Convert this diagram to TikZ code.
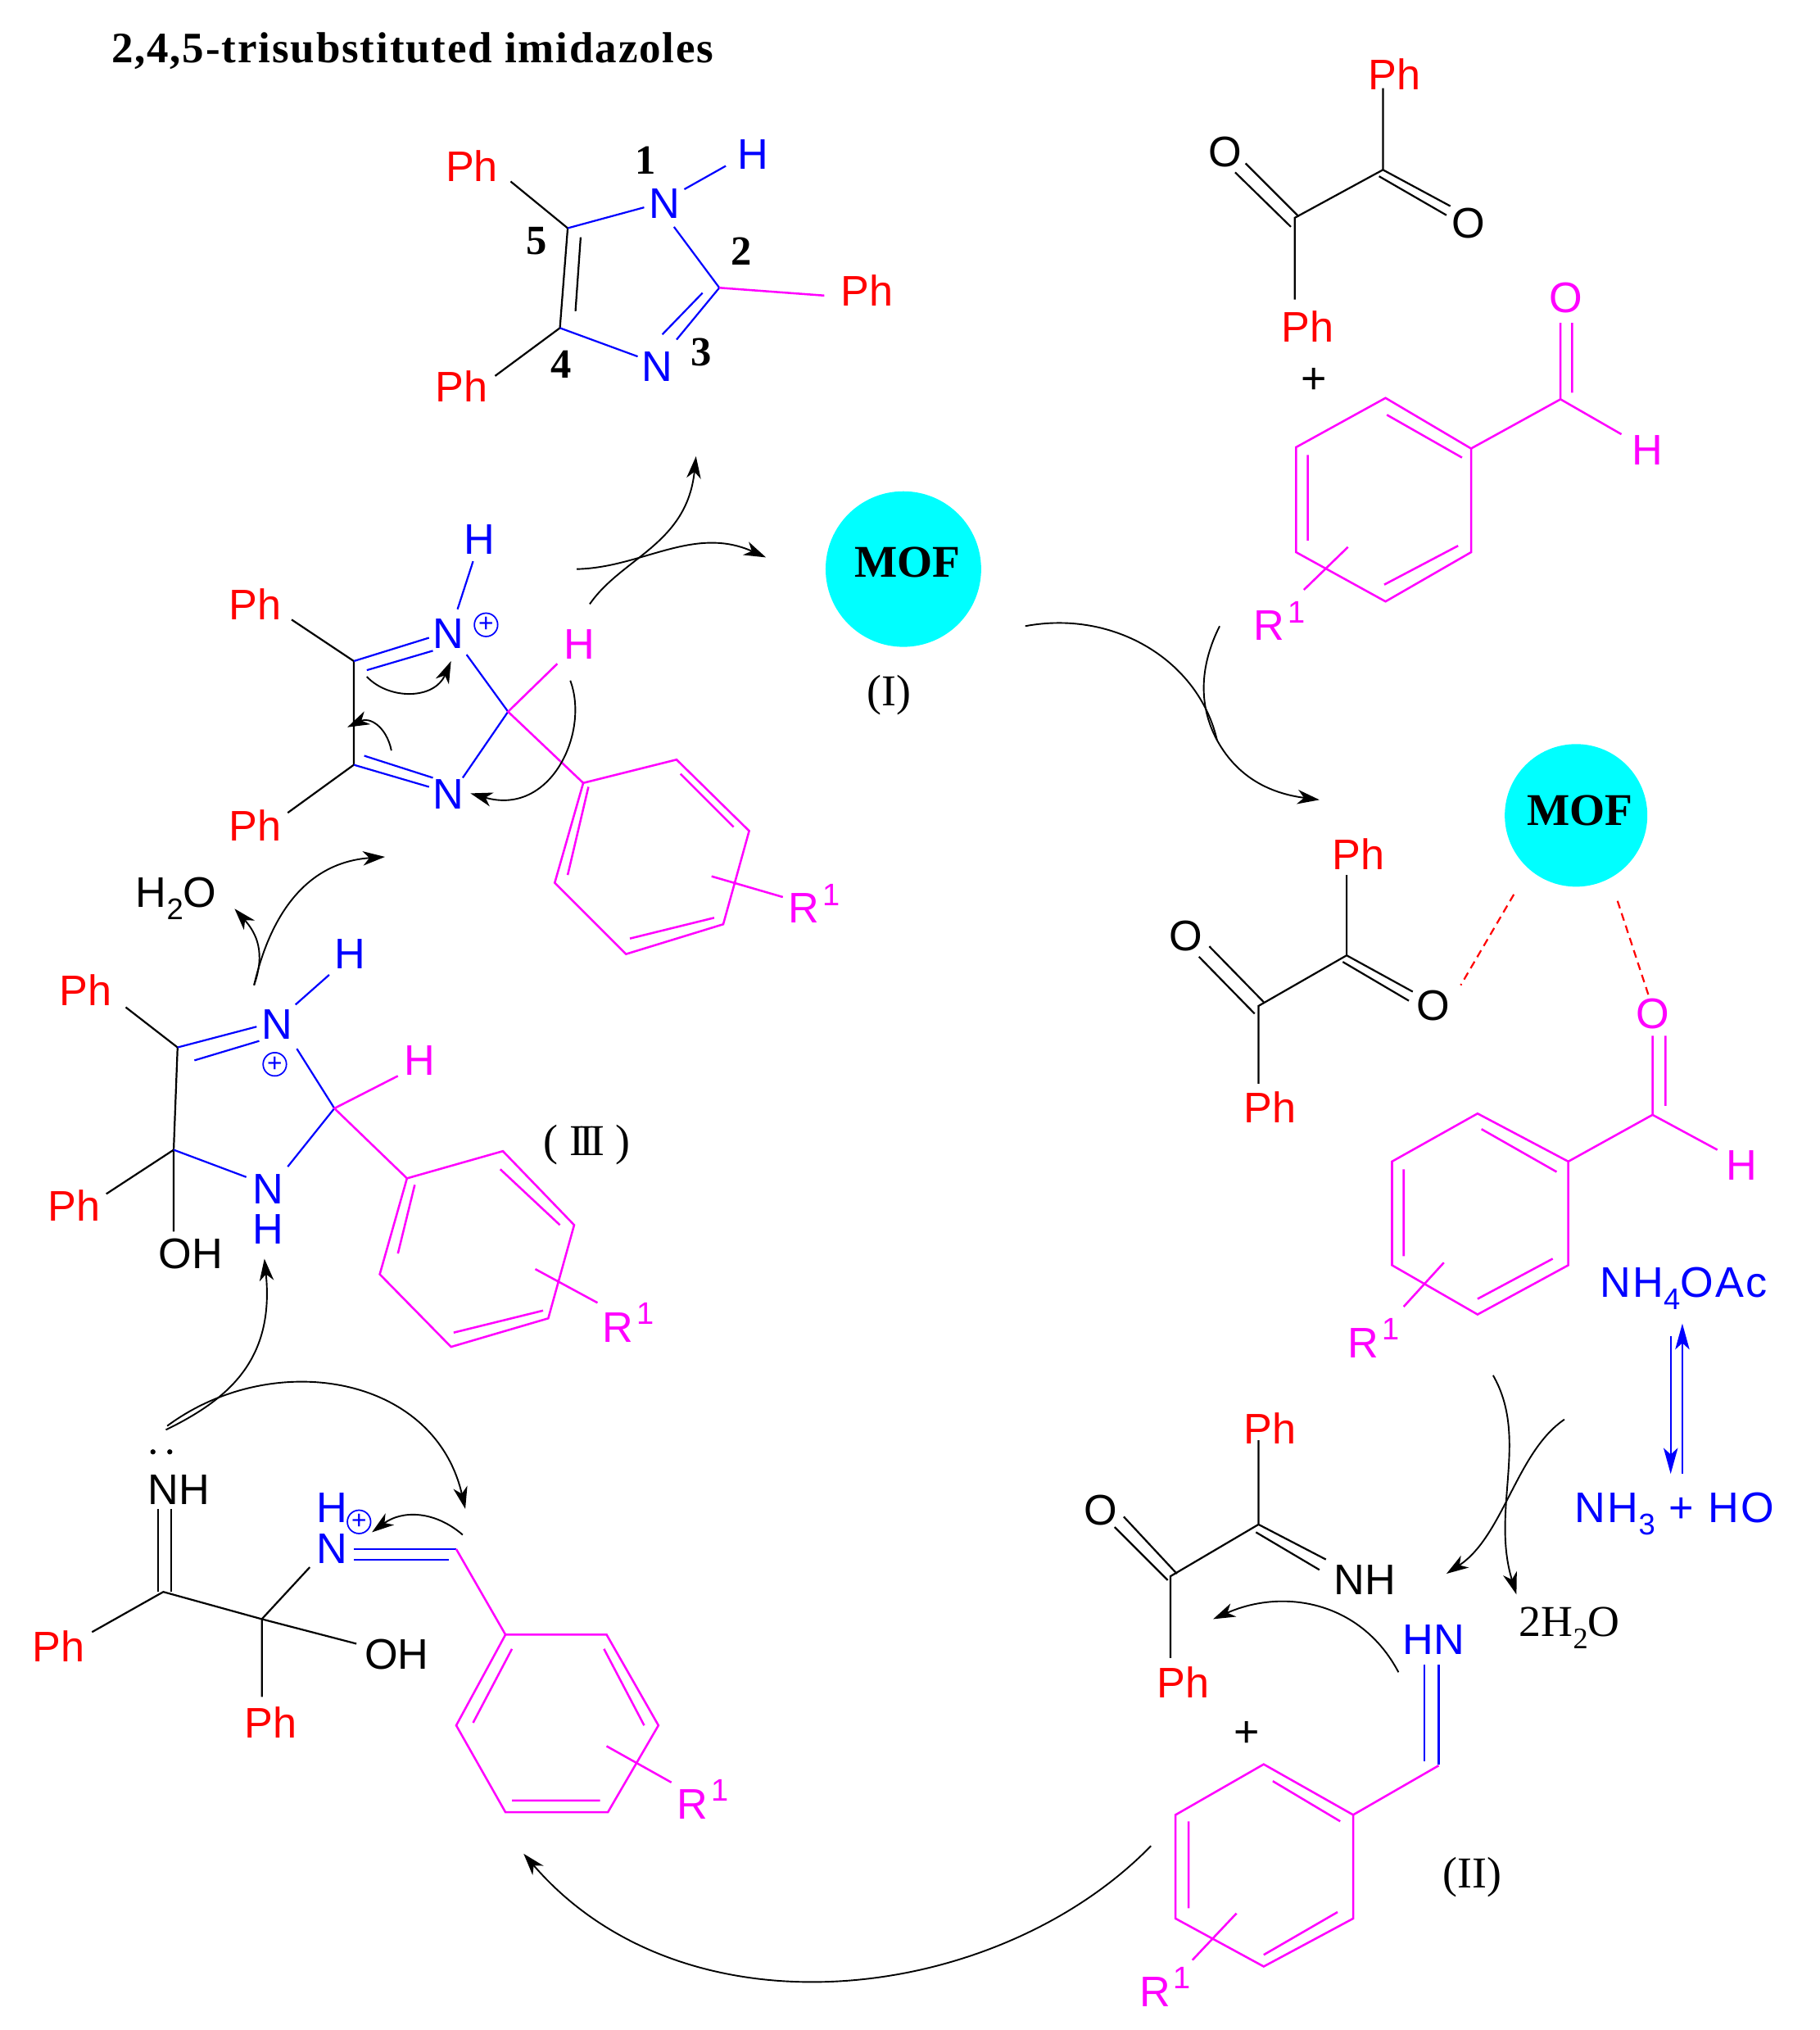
\documentclass[tikz,border=0pt]{standalone}
\usepackage{fontspec}
\setmainfont{Liberation Sans}
\newfontfamily\serifbody{Liberation Serif}
\newfontfamily\titlefont[LetterSpace=3.5]{Liberation Serif}
\newfontfamily\spaced[LetterSpace=5]{Liberation Sans}
\usetikzlibrary{arrows.meta}
\definecolor{pk}{RGB}{255,0,255}
\definecolor{rd}{RGB}{255,0,0}
\definecolor{bl}{RGB}{0,0,255}
\definecolor{mofc}{RGB}{0,255,255}
\newcommand\sbs[1]{\raisebox{-0.28em}{\fontsize{23}{23}\selectfont #1}}
\newcommand\sps[1]{\raisebox{0.42em}{\fontsize{24}{24}\selectfont #1}}
\newcommand\Rone{R\kern0.08em\sps{1}}
\tikzset{
 x=1pt,y=-1pt,
 every node/.style={inner sep=0pt,outer sep=0pt,anchor=center},
 atom/.style={font=\fontsize{33}{33}\selectfont},
 rl/.style={atom,text=rd},
 bll/.style={atom,text=bl},
 pkl/.style={atom,text=pk},
 bkl/.style={atom,text=black},
 numl/.style={font=\fontsize{32}{32}\selectfont\serifbody\bfseries,text=black},
 serl/.style={font=\fontsize{34}{34}\selectfont\serifbody,text=black},
 mofl/.style={font=\fontsize{35}{35}\selectfont\serifbody\bfseries,text=black},
 bbk/.style={draw=black,line width=1.4pt},
 bbl/.style={draw=bl,line width=1.4pt},
 bpk/.style={draw=pk,line width=1.6pt,line join=miter},
 arr/.style={draw=black,line width=1.2pt,-{Stealth[length=17pt,width=11pt,inset=5pt]}},
 plain/.style={draw=black,line width=1.2pt},
 hb/.style={draw=rd,line width=1.4pt,dash pattern=on 6pt off 4pt},
 cplus/.style={circle,draw=bl,line width=1.1pt,minimum size=18pt,text=bl,font=\fontsize{20}{20}\selectfont},
 eq/.style={draw=bl,line width=1.5pt,-{Stealth[length=20pt,width=11pt,inset=5pt]}},
 plusl/.style={font=\fontsize{34}{34}\selectfont,text=black},
}
\begin{document}
\begin{tikzpicture}
\useasboundingbox (0,0) rectangle (1404,1566);
% title
\node[font=\fontsize{33.5}{33.5}\selectfont\titlefont\bfseries,anchor=west] (title) at (86,39) {2,4,5-trisubstituted imidazoles};

% ---- top imidazole
\node[rl] (p1) at (364,128) {Ph};
\node[rl] (p2) at (669,224) {Ph};
\node[rl] (p3) at (356,298) {Ph};
\node[bll] (n1) at (513,157) {N};
\node[bll] (h1) at (581,119) {H};
\node[bll] (n3) at (507,283) {N};
\node[numl] (d1) at (498,124) {1};
\node[numl] (d2) at (572,194) {2};
\node[numl] (d3) at (541,272) {3};
\node[numl] (d4) at (433,281) {4};
\node[numl] (d5) at (414,186) {5};
\draw[bbk] (394,140)--(438,176);
\draw[bbk] (432,253)--(382,290);
\draw[bbk] (438,176)--(432,253) (448,183)--(444,240);
\draw[bbl] (438,176)--(497,160) (528,146)--(560,128) (520,175)--(555,222);
\draw[bbl] (555,222)--(522,262) (542,226)--(511,258) (432,253)--(492,275);
\draw[bpk] (555,222)--(636,228);

% ---- arrows to MOF
\draw[arr] (455,466) .. controls (480,430) and (530,420) .. (537,352);
\draw[arr] (445,439) .. controls (495,438) and (535,405) .. (591,430);

% ---- MOF I
\node[circle,fill=mofc,minimum size=120pt] (mof1) at (697,439) {};
\node[mofl] (mof1t) at (700,434) {MOF};
\node[serl] (lab1) at (686,536) {(I)};

% ---- cation top
\node[bll] (h2) at (370,416) {H};
\node[bll] (n4) at (346,489) {N};
\node[cplus] (pl1) at (375,482) {+};
\node[bll] (n5) at (346,613) {N};
\node[rl] (p4) at (197,466) {Ph};
\node[rl] (p5) at (197,637) {Ph};
\node[pkl] (h3) at (447,497) {H};
\node[pkl] (r1) at (628,697) {\Rone};
\draw[bbk] (225,478)--(273,510)--(273,590)--(222,627);
\draw[bbl] (273,510)--(331,492) (283,517)--(334,502) (365,433)--(353,470);
\draw[bbl] (273,590)--(331,607) (281,583)--(334,600);
\draw[bbl] (360,505)--(392,549)--(357,600);
\draw[bpk] (430,512)--(392,549)--(450,604);
\draw[bpk] (450,604)--(522,586)--(578,641)--(558,713)--(483,736)--(428,681)--cycle;
\draw[bpk] (525,597)--(566,638) (551,708)--(486,724) (454,607)--(438,675) (549,676)--(604,692);
\draw[arr] (283,522) .. controls (300,540) and (335,540) .. (348,510);
\draw[arr] (302,579) .. controls (298,560) and (285,553) .. (268,561);
\draw[arr] (440,525) .. controls (455,565) and (425,630) .. (363,612);

% ---- H2O
\node[bkl] (w1) at (136,693) {H\sbs{2}O};
\draw[arr] (196,760) .. controls (205,735) and (198,720) .. (181,701);
\draw[arr] (196,760) .. controls (210,700) and (240,665) .. (297,661);

% ---- III
\node[bll] (h4) at (270,736) {H};
\node[bll] (n6) at (214,790) {N};
\node[cplus] (pl2) at (212,821) {+};
\node[rl] (p6) at (66,764) {Ph};
\node[rl] (p7) at (57,930) {Ph};
\node[bkl] (oh1) at (147,967) {OH};
\node[bll] (n7) at (207,917) {N};
\node[bll] (h5) at (207,948) {H};
\node[pkl] (h6) at (324,818) {H};
\node[pkl] (r2) at (485,1020) {\Rone};
\node[serl] (lab3) at (453,883) {( I\kern-0.1em I\kern-0.1em I )};
\draw[bbk] (97,777)--(137,808)--(134,887)--(134,950) (82,921)--(134,887);
\draw[bbl] (137,808)--(198,792) (150,818)--(200,803) (228,775)--(254,752);
\draw[bbl] (229,809)--(258,855)--(222,900) (134,887)--(190,908);
\draw[bpk] (307,830)--(258,855)--(314,909);
\draw[bpk] (314,909)--(388,888)--(443,945)--(423,1017)--(348,1039)--(293,983)--cycle;
\draw[bpk] (386,902)--(432,945) (419,1011)--(350,1028) (320,914)--(307,967) (413,979)--(461,1005);
\draw[arr] (128,1103) .. controls (175,1080) and (212,1050) .. (204,971);
\draw[arr] (129,1100) .. controls (210,1040) and (335,1060) .. (359,1164);

% ---- lower left
\fill (118,1120) circle (2pt) (131,1120) circle (2pt);
\node[bkl] (nh1) at (138,1149) {NH};
\node[rl] (p8) at (45,1270) {Ph};
\node[rl] (p9) at (209,1329) {Ph};
\node[bkl] (oh2) at (306,1276) {OH};
\node[bll] (n8) at (256,1195) {N};
\node[bll] (h7) at (256,1163) {H};
\node[cplus] (pl3) at (277,1174) {+};
\node[pkl] (r3) at (542,1388) {\Rone};
\draw[bbk] (122,1164)--(122,1228) (132,1164)--(132,1228);
\draw[bbk] (71,1259)--(126,1228)--(202,1249)--(275,1268) (202,1249)--(202,1309) (202,1249)--(239,1209);
\draw[bbl] (273,1195)--(352,1195) (273,1203)--(346,1203);
\draw[bpk] (352,1195)--(390,1261);
\draw[bpk] (390,1261)--(468,1261)--(508,1331)--(469,1398)--(390,1398)--(352,1331)--cycle;
\draw[bpk] (466,1272)--(497,1331) (463,1389)--(395,1389) (395,1272)--(365,1329) (468,1347)--(518,1375);
\draw[arr] (357,1184) .. controls (335,1165) and (310,1165) .. (287,1182);
\draw[arr] (888,1424) .. controls (770,1545) and (530,1576) .. (404,1430);

% ---- top right reagents
\node[rl] (p10) at (1076,57) {Ph};
\node[rl] (p11) at (1009,252) {Ph};
\node[bkl] (o1) at (945,117) {O};
\node[bkl] (o2) at (1133,172) {O};
\node[plusl] (pl4) at (1014,294) {+};
\node[pkl] (o3) at (1208,230) {O};
\node[pkl] (h8) at (1271,347) {H};
\node[pkl] (r4) at (987,479) {\Rone};
\draw[bbk] (1067,68)--(1067,131)--(1119,159) (1064,136)--(1116,166) (1067,131)--(999,168)--(999,231);
\draw[bbk] (996,175)--(953,133) (1002,167)--(961,126);
\draw[bpk] (1069,307)--(1135,346)--(1135,426)--(1069,464)--(1000,426)--(1000,345)--cycle;
\draw[bpk] (1070,320)--(1128,353) (1125,421)--(1068,451) (1009,351)--(1009,417) (1040,422)--(1006,455);
\draw[bpk] (1135,346)--(1204,308)--(1251,335) (1204,308)--(1204,249) (1213,303)--(1213,249);
\draw[plain] (941,483) .. controls (925,515) and (925,545) .. (939,571);
\draw[plain] (791,483) .. controls (860,470) and (925,510) .. (939,571);
\draw[arr] (939,571) .. controls (955,600) and (980,612) .. (1018,617);

% ---- MOF complex
\node[circle,fill=mofc,minimum size=110pt] (mof2) at (1216,629) {};
\node[mofl] (mof2t) at (1219,625) {MOF};
\node[rl] (p12) at (1048,659) {Ph};
\node[rl] (p13) at (980,854) {Ph};
\node[bkl] (o4) at (915,722) {O};
\node[bkl] (o5) at (1106,776) {O};
\node[pkl] (o6) at (1275,782) {O};
\node[pkl] (h9) at (1344,899) {H};
\node[pkl] (r5) at (1060,1032) {\Rone};
\draw[hb] (1168,690)--(1127,760) (1248,695)--(1272,768);
\draw[bbk] (1039,675)--(1039,737)--(1090,765) (1036,742)--(1087,772) (1039,737)--(971,776)--(971,836);
\draw[bbk] (968,782)--(925,738) (975,773)--(933,730);
\draw[bpk] (1140,859)--(1210,896)--(1210,976)--(1140,1014)--(1074,976)--(1074,896)--cycle;
\draw[bpk] (1143,871)--(1201,904) (1198,971)--(1140,1002) (1083,902)--(1083,969) (1114,974)--(1083,1008);
\draw[bpk] (1210,896)--(1275,860)--(1325,887) (1275,860)--(1275,799) (1285,853)--(1285,799);

% ---- NH4OAc
\node[bll,font=\fontsize{33}{33}\selectfont\spaced] (am) at (1299,994) {NH\sbs{4}OAc};
\node[bll,font=\fontsize{33}{33}\selectfont\spaced] (am2) at (1292,1168) {NH\sbs{3} + HO};
\draw[eq] (1289,1031)--(1289,1137);
\draw[eq] (1298,1137)--(1298,1021);
\node[serl] (w2) at (1211,1256) {2H\sbs{2}O};
\draw[arr] (1152,1061) .. controls (1180,1110) and (1150,1165) .. (1170,1230);
\draw[arr] (1207,1095) .. controls (1170,1120) and (1160,1185) .. (1116,1214);

% ---- bottom right
\node[rl] (p14) at (980,1102) {Ph};
\node[rl] (p15) at (913,1298) {Ph};
\node[bkl] (o7) at (849,1165) {O};
\node[bkl] (nh2) at (1053,1219) {NH};
\node[plusl] (pl5) at (962,1338) {+};
\node[bll] (hn) at (1106,1265) {HN};
\node[pkl] (r6) at (899,1533) {\Rone};
\node[serl] (lab2) at (1136,1448) {(II)};
\draw[bbk] (971,1111)--(971,1176)--(1023,1203) (969,1182)--(1018,1211) (971,1176)--(903,1216)--(903,1279);
\draw[bbk] (901,1219)--(860,1178) (908,1214)--(867,1170);
\draw[arr] (1079,1290) .. controls (1050,1235) and (990,1225) .. (936,1249);
\draw[bbl] (1099,1284)--(1099,1359) (1110,1284)--(1110,1361);
\draw[bpk] (1110,1362)--(1044,1400);
\draw[bpk] (975,1361)--(1044,1400)--(1044,1480)--(975,1517)--(907,1480)--(907,1400)--cycle;
\draw[bpk] (982,1374)--(1034,1405) (1032,1475)--(975,1508) (917,1405)--(917,1472) (954,1476)--(920,1512);
\end{tikzpicture}
\end{document}
